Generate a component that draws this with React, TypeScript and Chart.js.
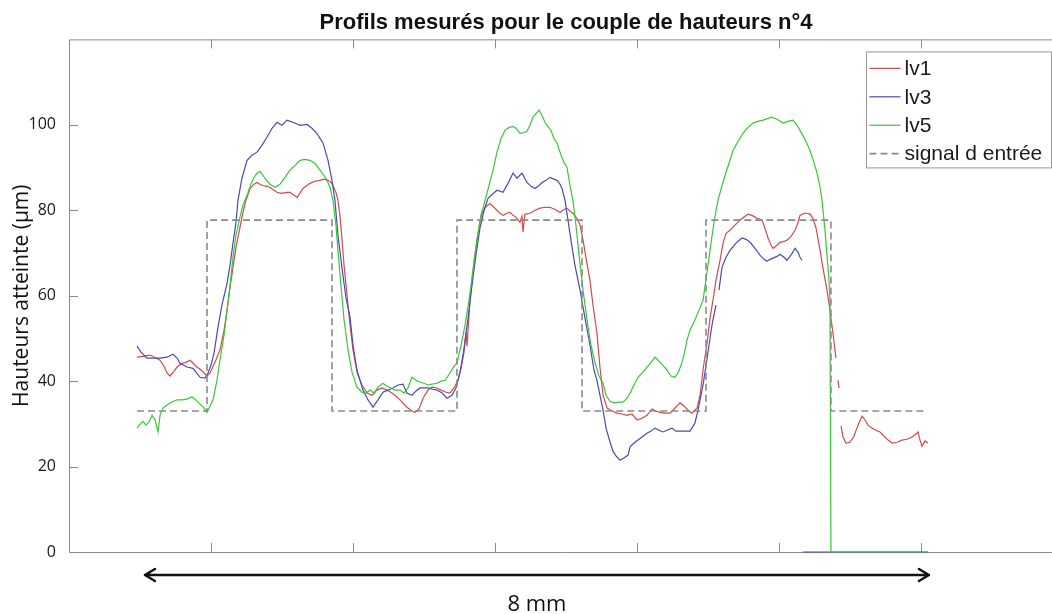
import { useEffect, useRef } from 'react';
import { Chart, registerables } from 'chart.js';

Chart.register(...registerables);

const TITLE = 'Profils mesurés pour le couple de hauteurs n°4';
const Y_TITLE = 'Hauteurs atteinte (µm)';
const SPAN_LABEL = '8 mm';
const SERIES_LABELS = ['lv1', 'lv3', 'lv5', 'signal d entrée'];
const Y_TICKS = [0, 20, 40, 60, 80, 100];
const X_TICKS = [1, 2, 3, 4, 5, 6];
const X_RANGE = [0, 7];
const Y_RANGE = [0, 120];
const ARROW_SPAN = [0.535, 6.056];

type P = [number, number | null];

const LV1: P[] = [[0.479,45.6],[0.521,45.8],[0.570,46.1],[0.613,45.4],[0.641,44.9],[0.669,43.5],[0.690,41.9],[0.711,41.2],[0.739,42.3],[0.761,43.3],[0.796,44.2],[0.824,44.4],[0.852,44.9],[0.880,44.0],[0.901,43.3],[0.930,42.6],[0.951,41.9],[0.972,41.2],[0.993,41.9],[1.028,44.4],[1.063,47.3],[1.092,51.9],[1.113,56.6],[1.134,61.8],[1.155,66.7],[1.176,71.3],[1.204,76.0],[1.225,79.5],[1.246,82.3],[1.275,85.1],[1.303,86.1],[1.324,86.5],[1.345,86.1],[1.366,85.8],[1.394,85.6],[1.415,85.4],[1.444,84.7],[1.465,84.2],[1.486,84.0],[1.507,84.0],[1.535,84.2],[1.556,84.2],[1.585,83.5],[1.606,83.0],[1.627,84.0],[1.648,85.1],[1.676,85.8],[1.697,86.3],[1.732,86.8],[1.768,87.0],[1.796,87.3],[1.824,87.0],[1.845,86.5],[1.859,85.8],[1.880,84.2],[1.894,82.3],[1.908,78.8],[1.923,73.0],[1.937,67.1],[1.958,60.1],[1.979,53.1],[2.000,47.3],[2.028,42.1],[2.063,39.1],[2.099,37.2],[2.134,36.7],[2.169,37.9],[2.204,38.4],[2.239,37.9],[2.275,37.2],[2.310,36.3],[2.345,35.1],[2.380,33.9],[2.415,33.0],[2.437,32.7],[2.465,33.5],[2.493,36.0],[2.528,37.9],[2.556,38.6],[2.592,38.4],[2.620,37.9],[2.655,37.4],[2.683,37.2],[2.711,38.4],[2.739,40.2],[2.761,43.0],[2.782,46.8],[2.796,51.5],[2.803,48.2],[2.824,58.9],[2.852,67.8],[2.873,73.0],[2.894,77.2],[2.908,79.3],[2.937,80.9],[2.965,81.6],[2.993,80.7],[3.014,80.0],[3.035,79.3],[3.056,78.8],[3.085,79.3],[3.106,79.5],[3.127,78.8],[3.148,78.4],[3.176,77.2],[3.190,78.6],[3.197,74.9],[3.211,79.1],[3.246,79.3],[3.282,80.0],[3.317,80.5],[3.352,80.7],[3.387,80.7],[3.423,80.2],[3.458,79.5],[3.486,80.2],[3.507,80.5],[3.528,79.8],[3.549,79.3],[3.577,78.1],[3.599,76.5],[3.620,73.0],[3.641,68.8],[3.669,63.6],[3.690,57.8],[3.718,51.2],[3.739,43.3],[3.761,36.7],[3.789,33.7],[3.824,33.0],[3.859,32.5],[3.894,32.3],[3.930,32.0],[3.965,32.3],[4.000,30.9],[4.035,31.3],[4.070,32.0],[4.106,33.5],[4.134,33.0],[4.162,32.7],[4.197,32.5],[4.232,32.5],[4.268,33.7],[4.303,34.9],[4.331,34.2],[4.359,33.2],[4.387,32.5],[4.423,33.7],[4.444,36.7],[4.465,42.6],[4.493,48.9],[4.514,54.7],[4.535,58.9],[4.556,63.6],[4.585,68.3],[4.606,72.3],[4.627,74.6],[4.655,75.3],[4.683,76.3],[4.704,77.0],[4.732,77.9],[4.761,78.6],[4.782,79.1],[4.810,78.8],[4.845,78.1],[4.880,77.7],[4.901,75.8],[4.923,73.5],[4.944,71.8],[4.958,71.1],[4.986,71.8],[5.007,72.5],[5.035,72.7],[5.056,73.0],[5.085,73.9],[5.113,75.3],[5.134,77.2],[5.148,78.8],[5.176,79.3],[5.197,79.3],[5.218,79.1],[5.239,78.1],[5.261,75.8],[5.289,70.6],[5.310,66.4],[5.338,61.3],[5.359,56.6],[5.380,51.2],[5.401,45.4],[5.408,null],[5.415,40.2],[5.423,38.4],[5.430,null],[5.437,29.5],[5.451,26.9],[5.472,25.5],[5.500,25.7],[5.528,27.1],[5.556,29.7],[5.585,31.8],[5.606,30.9],[5.627,29.7],[5.655,29.0],[5.683,28.5],[5.711,28.1],[5.739,27.1],[5.768,26.2],[5.796,25.5],[5.831,25.7],[5.866,26.2],[5.901,26.4],[5.937,26.9],[5.965,27.6],[5.979,28.1],[5.993,26.2],[6.007,24.8],[6.028,26.0],[6.049,25.5]];

const LV3: P[] = [[0.479,48.2],[0.507,46.8],[0.549,45.4],[0.592,45.4],[0.641,45.4],[0.690,45.6],[0.732,46.3],[0.761,45.4],[0.782,44.2],[0.831,43.3],[0.873,43.0],[0.923,40.9],[0.958,40.7],[0.979,41.9],[1.000,43.7],[1.021,46.5],[1.049,52.6],[1.077,57.8],[1.113,62.9],[1.134,67.1],[1.155,72.3],[1.176,77.2],[1.190,82.3],[1.218,87.5],[1.254,91.7],[1.289,92.9],[1.324,93.6],[1.359,95.2],[1.394,97.1],[1.430,99.2],[1.465,100.6],[1.500,99.9],[1.535,101.1],[1.577,100.6],[1.627,99.9],[1.676,100.1],[1.711,99.2],[1.746,98.0],[1.789,95.7],[1.824,91.7],[1.852,87.0],[1.873,82.3],[1.894,74.2],[1.923,66.4],[1.951,59.4],[1.979,55.0],[2.000,48.4],[2.028,42.6],[2.070,37.9],[2.106,35.6],[2.141,33.9],[2.176,35.6],[2.211,37.4],[2.246,37.9],[2.282,38.4],[2.317,39.1],[2.352,39.3],[2.380,37.2],[2.415,36.7],[2.444,37.7],[2.472,38.4],[2.500,38.4],[2.528,38.4],[2.563,38.1],[2.592,37.9],[2.627,37.2],[2.662,36.0],[2.697,36.7],[2.725,38.4],[2.754,42.1],[2.782,47.7],[2.810,54.7],[2.838,62.5],[2.866,69.5],[2.894,75.8],[2.923,80.0],[2.951,82.8],[2.979,83.7],[3.014,84.7],[3.056,84.2],[3.092,86.3],[3.127,88.7],[3.155,87.5],[3.190,88.7],[3.225,86.5],[3.254,85.6],[3.282,85.1],[3.310,85.8],[3.331,86.5],[3.359,87.0],[3.387,87.7],[3.415,87.3],[3.437,87.0],[3.458,86.1],[3.472,85.1],[3.493,82.3],[3.514,77.7],[3.535,73.0],[3.563,67.1],[3.599,61.3],[3.634,54.7],[3.669,48.4],[3.697,42.6],[3.718,40.2],[3.739,36.7],[3.761,33.2],[3.782,29.0],[3.810,25.7],[3.831,23.6],[3.852,22.5],[3.880,21.5],[3.908,22.0],[3.937,22.7],[3.951,24.6],[3.979,25.5],[4.007,26.2],[4.035,26.9],[4.070,27.8],[4.099,28.3],[4.127,29.0],[4.155,28.5],[4.183,28.1],[4.211,28.5],[4.246,29.0],[4.275,28.3],[4.303,28.3],[4.338,28.3],[4.373,28.3],[4.408,30.2],[4.430,33.2],[4.444,35.6],[4.465,39.1],[4.486,43.7],[4.507,48.4],[4.528,53.1],[4.556,57.8],[4.566,null],[4.577,61.3],[4.599,66.7],[4.627,69.0],[4.655,70.6],[4.697,72.3],[4.739,73.5],[4.768,73.2],[4.796,72.5],[4.831,71.1],[4.866,69.5],[4.894,68.5],[4.915,68.1],[4.937,68.5],[4.958,68.8],[4.986,69.2],[5.007,69.7],[5.035,69.0],[5.056,68.3],[5.077,69.2],[5.092,69.9],[5.113,71.1],[5.134,70.2],[5.148,69.0],[5.162,68.3],[5.165,null],[5.169,0],[6.049,0]];

const LV5: P[] = [[0.479,29.0],[0.500,29.9],[0.521,30.6],[0.542,29.7],[0.563,30.4],[0.585,32.0],[0.606,30.9],[0.620,29.0],[0.627,28.1],[0.641,32.0],[0.662,33.7],[0.690,34.4],[0.725,35.1],[0.761,35.6],[0.796,35.6],[0.831,35.8],[0.866,36.3],[0.894,35.6],[0.923,34.6],[0.951,33.7],[0.972,32.7],[0.993,34.2],[1.014,35.6],[1.042,40.2],[1.063,44.9],[1.092,50.8],[1.113,56.6],[1.134,62.5],[1.155,69.0],[1.176,74.2],[1.204,78.4],[1.225,81.2],[1.254,83.5],[1.275,85.6],[1.303,87.7],[1.324,88.7],[1.345,89.1],[1.380,87.5],[1.415,86.1],[1.451,85.4],[1.486,86.1],[1.521,87.7],[1.556,89.4],[1.592,90.5],[1.627,91.7],[1.662,91.9],[1.697,91.7],[1.732,91.0],[1.768,89.4],[1.810,87.5],[1.838,85.4],[1.859,82.3],[1.880,76.5],[1.894,70.6],[1.915,62.5],[1.937,54.3],[1.965,47.3],[1.993,42.1],[2.028,38.6],[2.063,37.4],[2.092,37.2],[2.120,37.9],[2.148,37.2],[2.176,38.6],[2.211,39.5],[2.239,38.8],[2.268,38.4],[2.296,37.9],[2.331,37.9],[2.359,37.2],[2.387,38.4],[2.415,40.9],[2.444,40.2],[2.472,39.8],[2.500,39.5],[2.528,39.1],[2.556,39.3],[2.592,39.5],[2.620,40.0],[2.648,40.2],[2.683,41.9],[2.711,43.5],[2.732,44.2],[2.761,48.4],[2.789,53.1],[2.817,58.9],[2.845,66.0],[2.873,73.0],[2.901,78.8],[2.930,82.3],[2.958,85.8],[2.986,89.4],[3.014,93.6],[3.042,96.8],[3.070,98.7],[3.099,99.4],[3.127,99.6],[3.148,99.2],[3.176,98.0],[3.204,98.2],[3.225,98.5],[3.246,99.9],[3.268,101.8],[3.289,102.7],[3.310,103.4],[3.331,102.2],[3.352,100.6],[3.373,99.6],[3.394,98.7],[3.415,96.8],[3.437,95.7],[3.465,92.9],[3.486,91.2],[3.507,90.1],[3.528,85.8],[3.549,82.3],[3.570,76.5],[3.592,69.5],[3.620,61.3],[3.648,54.3],[3.676,48.4],[3.704,44.4],[3.732,41.2],[3.761,39.5],[3.782,36.7],[3.810,35.3],[3.838,34.9],[3.873,35.1],[3.901,35.1],[3.930,36.0],[3.951,37.2],[3.979,39.1],[4.007,40.9],[4.042,42.1],[4.070,43.3],[4.099,44.4],[4.127,45.6],[4.155,44.7],[4.183,43.7],[4.211,42.6],[4.239,41.2],[4.268,40.9],[4.289,41.9],[4.310,43.7],[4.331,46.1],[4.352,49.6],[4.373,51.9],[4.401,53.8],[4.430,56.1],[4.465,58.9],[4.493,65.5],[4.514,70.6],[4.542,77.2],[4.570,82.3],[4.599,85.8],[4.627,88.9],[4.655,91.7],[4.676,94.0],[4.711,96.1],[4.746,98.0],[4.782,99.4],[4.817,100.4],[4.852,100.8],[4.887,101.1],[4.923,101.5],[4.951,101.8],[4.986,101.3],[5.028,100.4],[5.063,100.8],[5.099,101.1],[5.127,99.9],[5.148,98.7],[5.183,96.6],[5.218,94.0],[5.246,91.2],[5.268,88.7],[5.289,85.4],[5.303,82.3],[5.324,75.3],[5.338,69.5],[5.352,63.6],[5.359,58.9],[5.366,0],[6.049,0]];

const SIGNAL: P[] = [[0.479,33],[0.972,33],[0.972,77.7],[1.852,77.7],[1.852,33],[2.732,33],[2.732,77.7],[3.613,77.7],[3.613,33],[4.486,33],[4.486,77.7],[5.366,77.7],[5.366,33],[6.042,33]];

const COLORS = ['#d24a4a', '#4a4ab4', '#36c836', '#8a8a8a'];
const AXIS_COLOR = '#8c8c8c';

const toPoints = (pairs: P[]) => pairs.map(([x, y]) => ({ x, y }));

const decor = {
  id: 'decor',
  beforeDatasetsDraw(chart: any) {
    const { ctx, chartArea: a, scales } = chart;
    ctx.save();
    ctx.strokeStyle = AXIS_COLOR;
    ctx.lineWidth = 1;
    ctx.beginPath();
    ctx.moveTo(a.left + 0.5, a.top + 0.5);
    ctx.lineTo(a.left + 0.5, a.bottom + 0.5);
    ctx.lineTo(a.right, a.bottom + 0.5);
    ctx.moveTo(a.left, a.top + 0.5);
    ctx.lineTo(a.right, a.top + 0.5);
    ctx.moveTo(a.right - 0.5, a.top);
    ctx.lineTo(a.right - 0.5, a.bottom);
    const tl = 9;
    X_TICKS.forEach((v) => {
      const px = Math.round(scales.x.getPixelForValue(v)) + 0.5;
      ctx.moveTo(px, a.bottom);
      ctx.lineTo(px, a.bottom - tl);
      ctx.moveTo(px, a.top);
      ctx.lineTo(px, a.top + tl);
    });
    Y_TICKS.forEach((v) => {
      const py = Math.round(scales.y.getPixelForValue(v)) + 0.5;
      ctx.moveTo(a.left, py);
      ctx.lineTo(a.left + tl, py);
      ctx.moveTo(a.right, py);
      ctx.lineTo(a.right - tl, py);
    });
    ctx.stroke();
    ctx.restore();
  },
  afterDraw(chart: any) {
    const { ctx, chartArea: a, scales } = chart;
    ctx.save();
    // legend
    const lw = 185, lh = 116;
    const lx = a.right - 12 - lw + 0.5;
    const ly = a.top + 12 + 0.5;
    ctx.fillStyle = '#ffffff';
    ctx.fillRect(lx, ly, lw, lh);
    ctx.strokeStyle = '#9a9a9a';
    ctx.lineWidth = 1;
    ctx.strokeRect(lx, ly, lw, lh);
    chart.data.datasets.forEach((ds: any, i: number) => {
      const cy = ly + 16.5 + i * 28.4;
      ctx.beginPath();
      ctx.strokeStyle = ds.borderColor;
      ctx.lineWidth = ds.borderWidth;
      ctx.setLineDash(ds.borderDash || []);
      ctx.moveTo(lx + 3, cy);
      ctx.lineTo(lx + 34, cy);
      ctx.stroke();
      ctx.setLineDash([]);
      ctx.fillStyle = '#1a1a1a';
      ctx.font = '21px "Liberation Sans", Arial, sans-serif';
      ctx.textAlign = 'left';
      ctx.textBaseline = 'middle';
      ctx.fillText(ds.label, lx + 38, cy + 1);
    });
    // span arrow
    const x0 = scales.x.getPixelForValue(ARROW_SPAN[0]);
    const x1 = scales.x.getPixelForValue(ARROW_SPAN[1]);
    const ay = a.bottom + 23;
    ctx.strokeStyle = '#111111';
    ctx.lineWidth = 2.5;
    ctx.lineCap = 'round';
    ctx.lineJoin = 'round';
    ctx.beginPath();
    ctx.moveTo(x0, ay);
    ctx.lineTo(x1, ay);
    ctx.moveTo(x0 + 10, ay - 6);
    ctx.lineTo(x0, ay);
    ctx.lineTo(x0 + 10, ay + 6);
    ctx.moveTo(x1 - 10, ay - 6);
    ctx.lineTo(x1, ay);
    ctx.lineTo(x1 - 10, ay + 6);
    ctx.stroke();
    ctx.fillStyle = '#111111';
    ctx.font = '22px "Open Sans", sans-serif';
    ctx.textAlign = 'center';
    ctx.textBaseline = 'alphabetic';
    ctx.fillText(SPAN_LABEL, (x0 + x1) / 2, a.bottom + 59);
    ctx.restore();
  },
};

export default function App() {
  const ref = useRef<HTMLCanvasElement | null>(null);
  useEffect(() => {
    const canvas = ref.current;
    if (!canvas) return;
    const mk = (i: number, pairs: P[], extra: any = {}) => ({
      label: SERIES_LABELS[i],
      data: toPoints(pairs),
      borderColor: COLORS[i],
      borderWidth: 1.2,
      pointRadius: 0,
      fill: false,
      tension: 0,
      spanGaps: false,
      clip: 4,
      ...extra,
    });
    const chart = new Chart(canvas, {
      type: 'line',
      data: {
        datasets: [
          mk(0, LV1, { order: 3 }),
          mk(1, LV3, { order: 2 }),
          mk(2, LV5, { order: 1 }),
          mk(3, SIGNAL, { order: 0, borderWidth: 1.6, borderDash: [7, 4] }),
        ],
      },
      options: {
        responsive: false,
        animation: false,
        devicePixelRatio: 1,
        layout: { padding: 0 },
        plugins: {
          legend: { display: false },
          tooltip: { enabled: false },
          title: {
            display: true,
            text: TITLE,
            color: '#111111',
            font: { family: '"Liberation Sans", Arial, sans-serif', size: 22, weight: 'bold' },
            padding: { top: 10, bottom: 3 },
          },
        },
        scales: {
          x: {
            type: 'linear',
            min: X_RANGE[0],
            max: X_RANGE[1],
            ticks: { display: false, stepSize: 1 },
            grid: { display: false, drawTicks: false },
            border: { display: false },
            afterFit: (s: any) => { s.height = 62; },
          },
          y: {
            min: Y_RANGE[0],
            max: Y_RANGE[1],
            ticks: {
              stepSize: 20,
              padding: 13,
              color: '#1a1a1a',
              font: { family: '"Open Sans", sans-serif', size: 16 },
              callback: (v: any) => (Y_TICKS.includes(Number(v)) ? String(v) : ''),
            },
            grid: { display: false, drawTicks: false },
            border: { display: false },
            title: {
              display: true,
              text: Y_TITLE,
              color: '#111111',
              font: { family: '"Open Sans", sans-serif', size: 21 },
              padding: { top: 9, bottom: 0 },
            },
            afterFit: (s: any) => { s.width = 69; },
          },
          yRight: {
            position: 'right',
            min: Y_RANGE[0],
            max: Y_RANGE[1],
            ticks: { display: false },
            grid: { display: false, drawTicks: false },
            border: { display: false },
            afterFit: (s: any) => { s.width = 69; },
          },
        },
      } as any,
      plugins: [decor],
    });
    return () => chart.destroy();
  }, []);
  return (
    <div style={{ position: 'fixed', left: 0, top: 0, width: 1052, height: 614, overflow: 'hidden', background: '#ffffff' }}>
      <canvas ref={ref} width={1132} height={614} style={{ display: 'block', width: 1132, height: 614 }} />
    </div>
  );
}
